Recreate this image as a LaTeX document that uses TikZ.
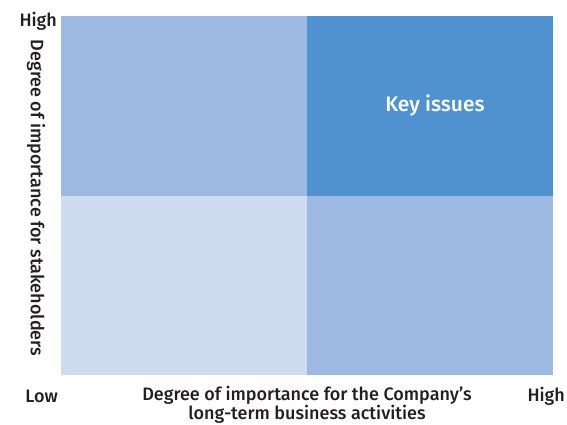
\documentclass[tikz,border=0pt]{standalone}
\usepackage{fontspec}
\setmainfont{Fira Sans}[UprightFont={* Medium}, BoldFont={* SemiBold}]
\usetikzlibrary{positioning}
\definecolor{paleblue}{HTML}{CEDBF1}
\definecolor{midblue}{HTML}{9DB9E2}
\definecolor{keyblue}{HTML}{5092D0}
\definecolor{labelgray}{HTML}{231F20}
\tikzstyle{quad} = [rectangle, inner sep=0pt, outer sep=0pt, minimum width=246pt, minimum height=179.5pt]
\tikzstyle{axislabel} = [text=labelgray, inner sep=0pt, align=center]

\begin{document}
\begin{tikzpicture}[x=1pt, y=-1pt]
    \tikzset{font={\fontsize{18pt}{17pt}\selectfont}}
    \useasboundingbox (0,0) rectangle (567,424);
    \node [quad, fill=midblue, anchor=north west] (topleft) at (61,16) {};
    \node [quad, fill=keyblue, right=0pt of topleft, text=white, font={\fontsize{21pt}{22pt}\selectfont}] (topright) {\hspace*{10pt}Key issues};
    \node [quad, fill=paleblue, below=0pt of topleft] (botleft) {};
    \node [quad, fill=midblue, right=0pt of botleft] (botright) {};

    % axis labels
    \node [axislabel, anchor=east] (yhigh) at (57,21) {High};
    \node [axislabel, rotate=-90] (ytitle) at (36,198) {Degree of importance for stakeholders};
    \node [axislabel, anchor=east] (xlow) at (58,396) {Low};
    \node [axislabel, anchor=east] (xhigh) at (565,396) {High};
    \node [axislabel, anchor=north] (xtitle) at (307,386) {Degree of importance for the Company’s\\ long-term business activities};
\end{tikzpicture}
\end{document}
